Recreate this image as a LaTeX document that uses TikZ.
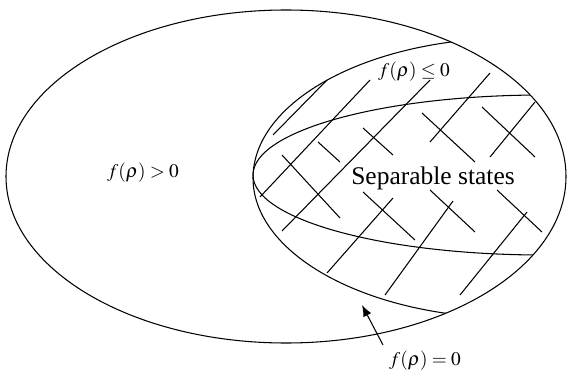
\documentclass[tikz,border=0pt]{standalone}
\usepackage{mathptmx}
\usepackage{fontspec}
\setmainfont{Liberation Serif}
\usetikzlibrary{arrows.meta}
\tikzset{
  hatch/.style={line width=0.6pt},
  region/.style={line width=0.6pt},
  setlabel/.style={inner sep=1pt, font=\fontsize{11}{13}\selectfont}
}
\begin{document}
\begin{tikzpicture}[x=0.02cm, y=0.02cm]
\useasboundingbox (0,0) rectangle (567,-371);
% all states
\draw[region] (286,-176.5) ellipse[x radius=280, y radius=166.5];
% f <= 0 and separable states, inside the outer ellipse
\begin{scope}
\clip (286,-176.5) ellipse[x radius=280, y radius=166.5];
\draw[region] (513,-178) ellipse[x radius=260, y radius=140];
\draw[region] (543,-175) ellipse[x radius=290, y radius=80];
\end{scope}
% hatching
\foreach \xa/\ya/\xb/\yb in {273/135/327/80, 260/197/370/80, 282/231/430/80, 327/273/393/198,
  385/295/453/201, 430/142/490/73, 490/157/535/102, 460/295/527/212}
  \draw[hatch] (\xa,-\ya) -- (\xb,-\yb);
\foreach \xa/\ya/\xb/\yb in {318/142/340/162, 282/155/340/218, 363/128/393/155, 422/113/475/162,
  482/107/535/157, 363/192/415/240, 430/190/475/232, 497/190/542/232}
  \draw[hatch] (\xa,-\ya) -- (\xb,-\yb);
% labels
\node[setlabel] (pos) at (143,-173) {$f(\rho)>0$};
\node[setlabel] (neg) at (414,-72) {$f(\rho)\leq 0$};
\node[setlabel] (zero) at (425,-361) {$f(\rho)=0$};
\node[font=\fontsize{14.5}{16}\selectfont] (sep) at (433,-178) {Separable states};
\coordinate (tail) at (383,-345);
\coordinate (tip) at (362,-305);
\draw[-{Latex[length=6.5pt,width=5pt]}, line width=0.6pt] (tail) -- (tip);
\end{tikzpicture}
\end{document}
